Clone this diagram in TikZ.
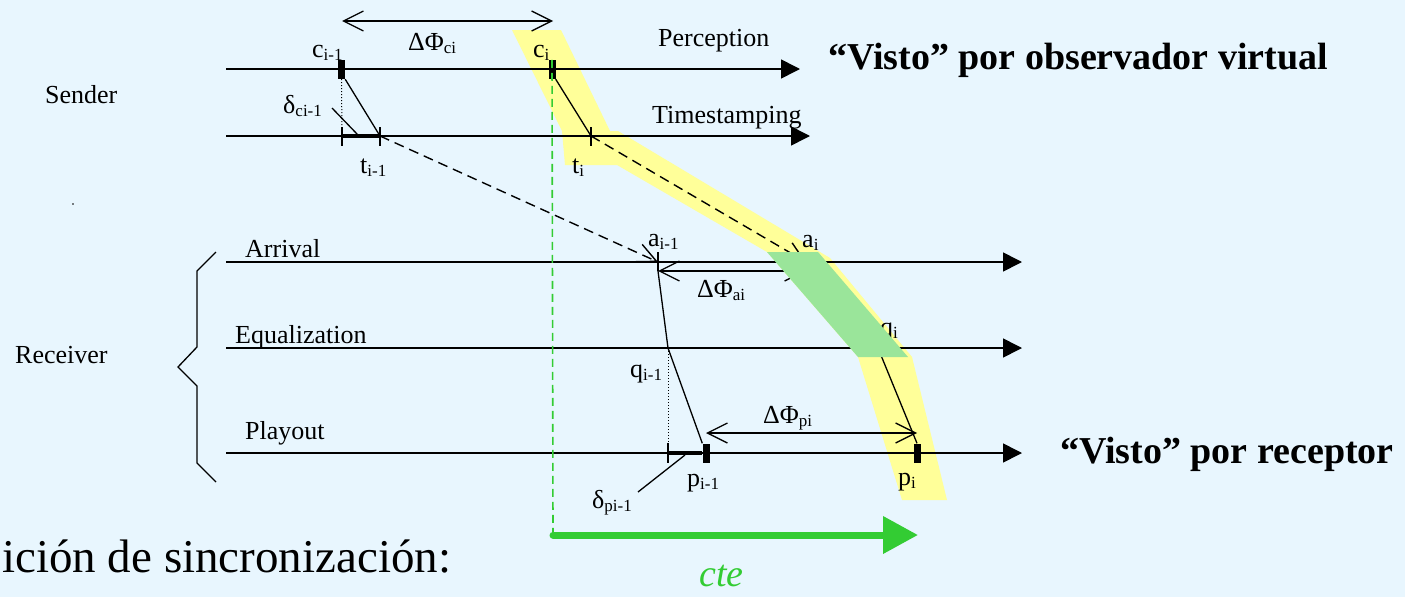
\documentclass[tikz,border=0pt]{standalone}
\usepackage{fontspec}
\setmainfont{Liberation Serif}
\usetikzlibrary{arrows.meta}
\definecolor{bg}{RGB}{232,246,254}
\definecolor{hl}{RGB}{255,255,153}
\definecolor{gr}{RGB}{154,229,154}
\definecolor{grn}{RGB}{51,204,51}
\newcommand\fs[1]{\fontsize{#1}{#1}\selectfont}
\newcommand\lb[2]{#1\raisebox{-3pt}{\fs{17}#2}}
\tikzset{
  timeline/.style={line width=1.6pt,-{Triangle[length=19pt,width=19pt]}},
  conn/.style={line width=1.3pt},
  lbl/.style={anchor=base west,inner sep=0pt,font=\fs{26}},
  big/.style={anchor=base west,inner sep=0pt,font=\fs{38}\bfseries},
  dline/.style={line width=1.4pt,dash pattern=on 10pt off 6pt,-{Straight Barb[length=20pt,width=19pt]}},
  dbl/.style={line width=1.3pt,{Straight Barb[length=20pt,width=20pt]}-{Straight Barb[length=20pt,width=20pt]}},
  blk/.style={fill=black,inner sep=0pt,minimum width=7pt,minimum height=19pt},
  bar/.style={line width=3.5pt},
  dots/.style={line width=1pt,dotted},
}
\begin{document}
\begin{tikzpicture}[x=1pt,y=-1pt]
\useasboundingbox (0,0) rectangle (1405,597);
\fill[bg] (0,0) rectangle (1405,597);
% highlight bands
\fill[hl] (512,30) -- (561,30) -- (610,131) -- (618,131) -- (830,258) -- (912,357)
  -- (947,500) -- (902,500) -- (858,357) -- (767,252) -- (617,165) -- (565,165)
  -- (562,131) -- cycle;
% time lines
\coordinate (perS) at (226,69);  \coordinate (perE) at (800,69);
\coordinate (tsS) at (226,136);  \coordinate (tsE) at (810,136);
\coordinate (arS) at (226,262);  \coordinate (arE) at (1022,262);
\coordinate (eqS) at (226,348);  \coordinate (eqE) at (1022,348);
\coordinate (plS) at (226,453);  \coordinate (plE) at (1022,453);
\draw[timeline] (perS) -- (perE);
\draw[timeline] (tsS) -- (tsE);
\draw[timeline] (arS) -- (arE);
\draw[timeline] (eqS) -- (eqE);
\draw[timeline] (plS) -- (plE);
% labels of lines
\node[lbl] (lsender) at (45,103) {Sender};
\node[lbl] (lreceiver) at (15,363) {Receiver};
\node[lbl] (lperc) at (658,46) {Perception};
\node[lbl] (lts) at (652,123) {Timestamping};
\node[lbl] (larr) at (245,257) {Arrival};
\node[lbl] (leq) at (235,343) {Equalization};
\node[lbl] (lplay) at (245,439) {Playout};
\fill (73,204) circle (0.8pt);
% brace
\draw[line width=1.3pt] (216,252) -- (197,271) -- (197,347) -- (178,367) -- (197,386) -- (197,463) -- (216,482);
% key points
\coordinate (ti1) at (380,136);
\coordinate (ti1L) at (342,136);
\coordinate (ti) at (591,136);
\coordinate (ai1) at (658,262);
\coordinate (ai1b) at (658,271);
\coordinate (ai) at (806,262);
\coordinate (qi1) at (668,348);
\coordinate (qi1p) at (668,453);
\coordinate (qi) at (878,348);
% sender markers
\node[blk] (ci1) at (341.5,69.5) {};
\node[blk] (ci) at (552,69.5) {};
\draw[conn] (ci1.south east) -- (ti1);
\draw[dots] (ci1.south) -- (ti1L);
\draw[bar] (ti1L) -- (ti1);
\draw[conn] ([yshift=9pt]ti1L) -- ([yshift=-10pt]ti1L);
\draw[conn] ([yshift=9pt]ti1) -- ([yshift=-10pt]ti1);
\draw[conn] (ci.south east) -- (ti);
\draw[conn] ([yshift=9pt]ti) -- ([yshift=-10pt]ti);
\coordinate (dcs) at (332,108); \coordinate (dce) at (358,135);
\draw[conn] (dcs) -- (dce);
% transmission
\draw[dline] (ti1) -- (ai1);
\draw[dline] (ti) -- (ai);
% receiver
\draw[conn] ([yshift=10pt]ai1) -- (ai1b);
\draw[conn] (ai1b) -- (qi1);
\node[blk] (pi1) at (706,453) {};
\node[blk] (pi) at (917,453) {};
\draw[conn] (qi1) -- (pi1.north west);
\draw[dots] (qi1) -- (qi1p);
\draw[bar] (qi1p) -- (pi1.west);
\draw[conn] ([yshift=10pt]qi1p) -- ([yshift=-10pt]qi1p);
\coordinate (dps) at (638,492); \coordinate (dpe) at (685,455);
\draw[conn] (dps) -- (dpe);
\draw[conn] (qi) -- (pi.north);
% delta phi arrows
\coordinate (dcL) at (342,21); \coordinate (dcR) at (553,21);
\draw[dbl] (dcL) -- (dcR);
\coordinate (daL) at (658,271); \coordinate (daR) at (806,271);
\draw[dbl] (daL) -- (daR);
\coordinate (dpL) at (706,433); \coordinate (dpR) at (917,433);
\draw[dbl] (dpL) -- (dpR);
% point labels
\node[lbl] (lci1) at (312,57) {\lb{c}{i-1}};
\node[lbl] (lci) at (533,57) {\lb{c}{i}};
\node[lbl] (ldphic) at (408,50) {\lb{ΔΦ}{ci}};
\node[lbl] (ldci) at (283,113) {\lb{δ}{ci-1}};
\node[lbl] (lti1) at (360,173) {\lb{t}{i-1}};
\node[lbl] (lti) at (572,173) {\lb{t}{i}};
\node[lbl] (lai1) at (648,246) {\lb{a}{i-1}};
\node[lbl] (lai) at (802,247) {\lb{a}{i}};
\node[lbl] (ldphia) at (697,297) {\lb{ΔΦ}{ai}};
\node[lbl] (lqi1) at (630,377) {\lb{q}{i-1}};
\node[lbl] (lqi) at (880,335) {\lb{q}{i}};
\node[lbl] (lpi1) at (687,486) {\lb{p}{i-1}};
\node[lbl] (ldpi) at (592,508) {\lb{δ}{pi-1}};
\node[lbl] (ldphip) at (763,423) {\lb{ΔΦ}{pi}};
\node[lbl] (lpi) at (898,485) {\lb{p}{i}};
% green overlay
\fill[gr] (767,252) -- (818,252) -- (908,357) -- (858,357) -- cycle;
% constant offset
\coordinate (gS) at (553,535); \coordinate (gE) at (918,535);
\draw[grn,line width=1.6pt,dash pattern=on 8pt off 5pt] (ci.north) -- (gS);
\draw[grn,line width=7pt,line cap=round,-{Triangle[length=35pt,width=36pt]}] (gS) -- (gE);
\node[anchor=base west,inner sep=0pt,text depth=0pt,font=\fs{38}\itshape,text=grn] (lcte) at (699,586) {cte};
% big texts
\node[big] (lvv) at (828,69) {“Visto” por observador virtual};
\node[big] (lvr) at (1060,463) {“Visto” por receptor};
\node[anchor=base west,inner sep=0pt,font=\fs{47}] (lcond) at (2,572) {ición de sincronización:};
\end{tikzpicture}
\end{document}
